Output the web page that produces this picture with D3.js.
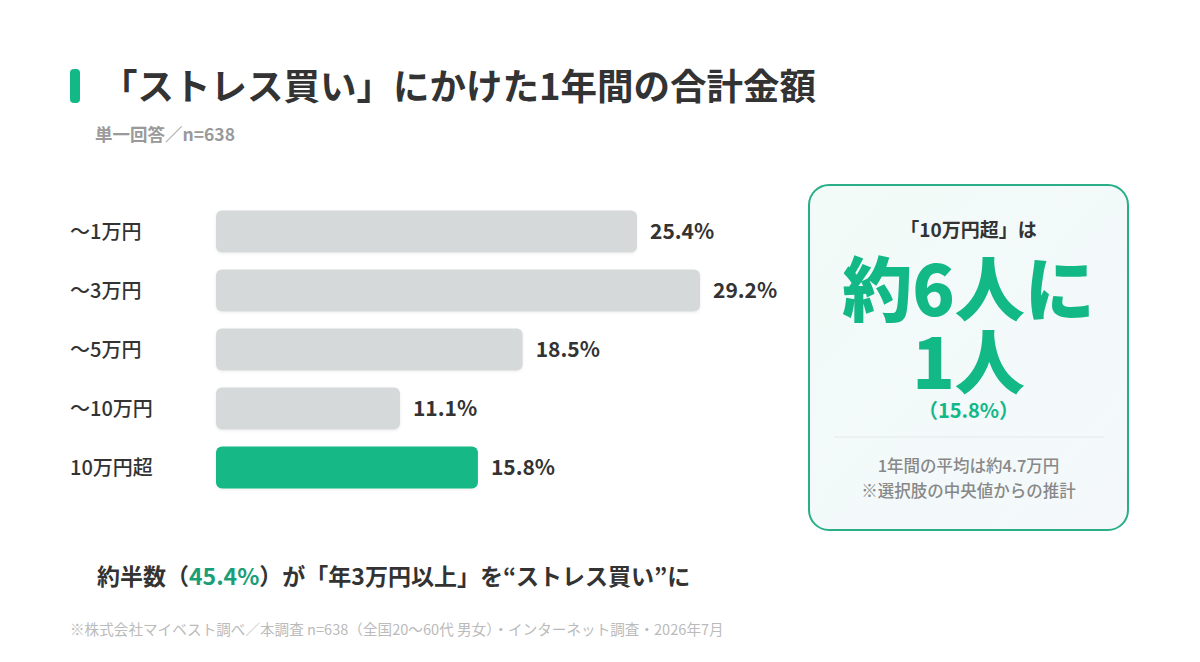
<!DOCTYPE html>
<html>
<head>
<meta charset="utf-8">
<script src="https://cdn.jsdelivr.net/npm/d3@7"></script>
<style>
  html, body { margin: 0; padding: 0; background: #fff; }
  svg { display: block; font-family: "Noto Sans CJK JP", "Noto Sans", sans-serif; }
</style>
</head>
<body>
<svg></svg>
<script>
let categories = ['〜1万円', '〜3万円', '〜5万円', '〜10万円', '10万円超']
let values = [25.4, 29.2, 18.5, 11.1, 15.8]
let highlight = '10万円超'

let title = '「ストレス買い」にかけた1年間の合計金額'
let subtitle = '単一回答／n=638'
let panelLines = ['「10万円超」は', '約6人に', '1人', '（15.8%）']
let panelNotes = ['1年間の平均は約4.7万円', '※選択肢の中央値からの推計']
let summaryParts = [['約半数（', false], ['45.4%', true], ['）が「年3万円以上」を“ストレス買い”に', false]]
let source = '※株式会社マイベスト調べ／本調査 n=638（全国20〜60代 男女）・インターネット調査・2026年7月'

let width = 1200
let height = 662

let green = '#12b886'
let gray = '#d5d9d9'
let dark = '#333'

let svg = d3.select('svg')
    .attr('width', width)
    .attr('height', height)

let defs = svg.append('defs')
let shadow = defs.append('filter').attr('id', 'shadow').attr('x', '-10%').attr('y', '-30%').attr('width', '120%').attr('height', '160%')
shadow.append('feDropShadow').attr('dx', 0).attr('dy', 1).attr('stdDeviation', 1.5).attr('flood-color', '#000').attr('flood-opacity', 0.08)

let grad = defs.append('linearGradient').attr('id', 'panelFill').attr('x1', 0).attr('y1', 0).attr('x2', 1).attr('y2', 1)
grad.append('stop').attr('offset', '0%').attr('stop-color', '#f2fbf8')
grad.append('stop').attr('offset', '100%').attr('stop-color', '#f4f8fb')

// title
svg.append('rect')
   .attr('x', 70).attr('y', 69).attr('width', 10).attr('height', 34).attr('rx', 4)
   .attr('fill', green)

svg.append('text')
   .attr('x', 101).attr('y', 100)
   .attr('font-size', 36.5).attr('font-weight', 700)
   .attr('fill', dark)
   .text(title)

svg.append('text')
   .attr('x', 95).attr('y', 141)
   .attr('font-size', 17.5).attr('font-weight', 700)
   .attr('fill', '#9a9a9a')
   .text(subtitle)

// scales
let xScale = d3.scaleLinear()
               .domain([0, d3.max(values)])
               .range([216, 700])

let yScale = d3.scaleBand()
               .domain(categories)
               .range([202, 497])
               .paddingInner(0.29)
               .paddingOuter(0.145)

let data = categories.map((c, i) => ({ cat: c, val: values[i] }))

let rows = svg.selectAll('g.row')
   .data(data)
   .enter()
   .append('g')
   .attr('class', 'row')

rows.append('rect')
   .attr('x', xScale(0))
   .attr('y', d => yScale(d.cat))
   .attr('width', d => xScale(d.val) - xScale(0))
   .attr('height', yScale.bandwidth())
   .attr('rx', 6)
   .attr('fill', d => d.cat === highlight ? green : gray)
   .attr('filter', 'url(#shadow)')

rows.append('text')
   .attr('x', 70)
   .attr('y', d => yScale(d.cat) + yScale.bandwidth() / 2)
   .attr('dy', '0.35em')
   .attr('font-size', 20).attr('font-weight', 500)
   .attr('fill', dark)
   .text(d => d.cat)

rows.append('text')
   .attr('x', d => xScale(d.val) + 13)
   .attr('y', d => yScale(d.cat) + yScale.bandwidth() / 2)
   .attr('dy', '0.35em')
   .attr('font-size', 21).attr('font-weight', 700)
   .attr('fill', dark)
   .text(d => d.val.toFixed(1) + '%')

// callout panel
let px = 809, py = 185, pw = 319, ph = 345
let cx = px + pw / 2

svg.append('rect')
   .attr('x', px).attr('y', py).attr('width', pw).attr('height', ph).attr('rx', 20)
   .attr('fill', 'url(#panelFill)')
   .attr('stroke', '#2aae88').attr('stroke-width', 2)

svg.append('text')
   .attr('x', cx).attr('y', 237)
   .attr('text-anchor', 'middle')
   .attr('font-size', 19).attr('font-weight', 700)
   .attr('fill', dark)
   .text(panelLines[0])

svg.append('text')
   .attr('x', cx).attr('y', 316)
   .attr('text-anchor', 'middle')
   .attr('font-size', 70).attr('font-weight', 900)
   .attr('fill', green)
   .text(panelLines[1])

svg.append('text')
   .attr('x', cx).attr('y', 389)
   .attr('text-anchor', 'middle')
   .attr('font-size', 70).attr('font-weight', 900)
   .attr('fill', green)
   .text(panelLines[2])

svg.append('text')
   .attr('x', cx).attr('y', 418)
   .attr('text-anchor', 'middle')
   .attr('font-size', 20).attr('font-weight', 700)
   .attr('fill', green)
   .text(panelLines[3])

svg.append('line')
   .attr('x1', 834).attr('x2', 1104).attr('y1', 437).attr('y2', 437)
   .attr('stroke', '#e4e8e8').attr('stroke-width', 1)

svg.selectAll('text.note')
   .data(panelNotes)
   .enter()
   .append('text')
   .attr('class', 'note')
   .attr('x', cx)
   .attr('y', (d, i) => 472 + i * 25)
   .attr('text-anchor', 'middle')
   .attr('font-size', 16.5).attr('font-weight', 500)
   .attr('fill', '#888')
   .text(d => d)

// summary line
let summary = svg.append('text')
   .attr('x', 97).attr('y', 585)
   .attr('font-size', 23).attr('font-weight', 700)
   .attr('fill', dark)

summary.selectAll('tspan')
   .data(summaryParts)
   .enter()
   .append('tspan')
   .attr('fill', d => d[1] ? '#1a9e77' : dark)
   .text(d => d[0])

svg.append('text')
   .attr('x', 70).attr('y', 635)
   .attr('font-size', 14.6).attr('font-weight', 400)
   .attr('fill', '#bbb')
   .text(source)
</script>
</body>
</html>
